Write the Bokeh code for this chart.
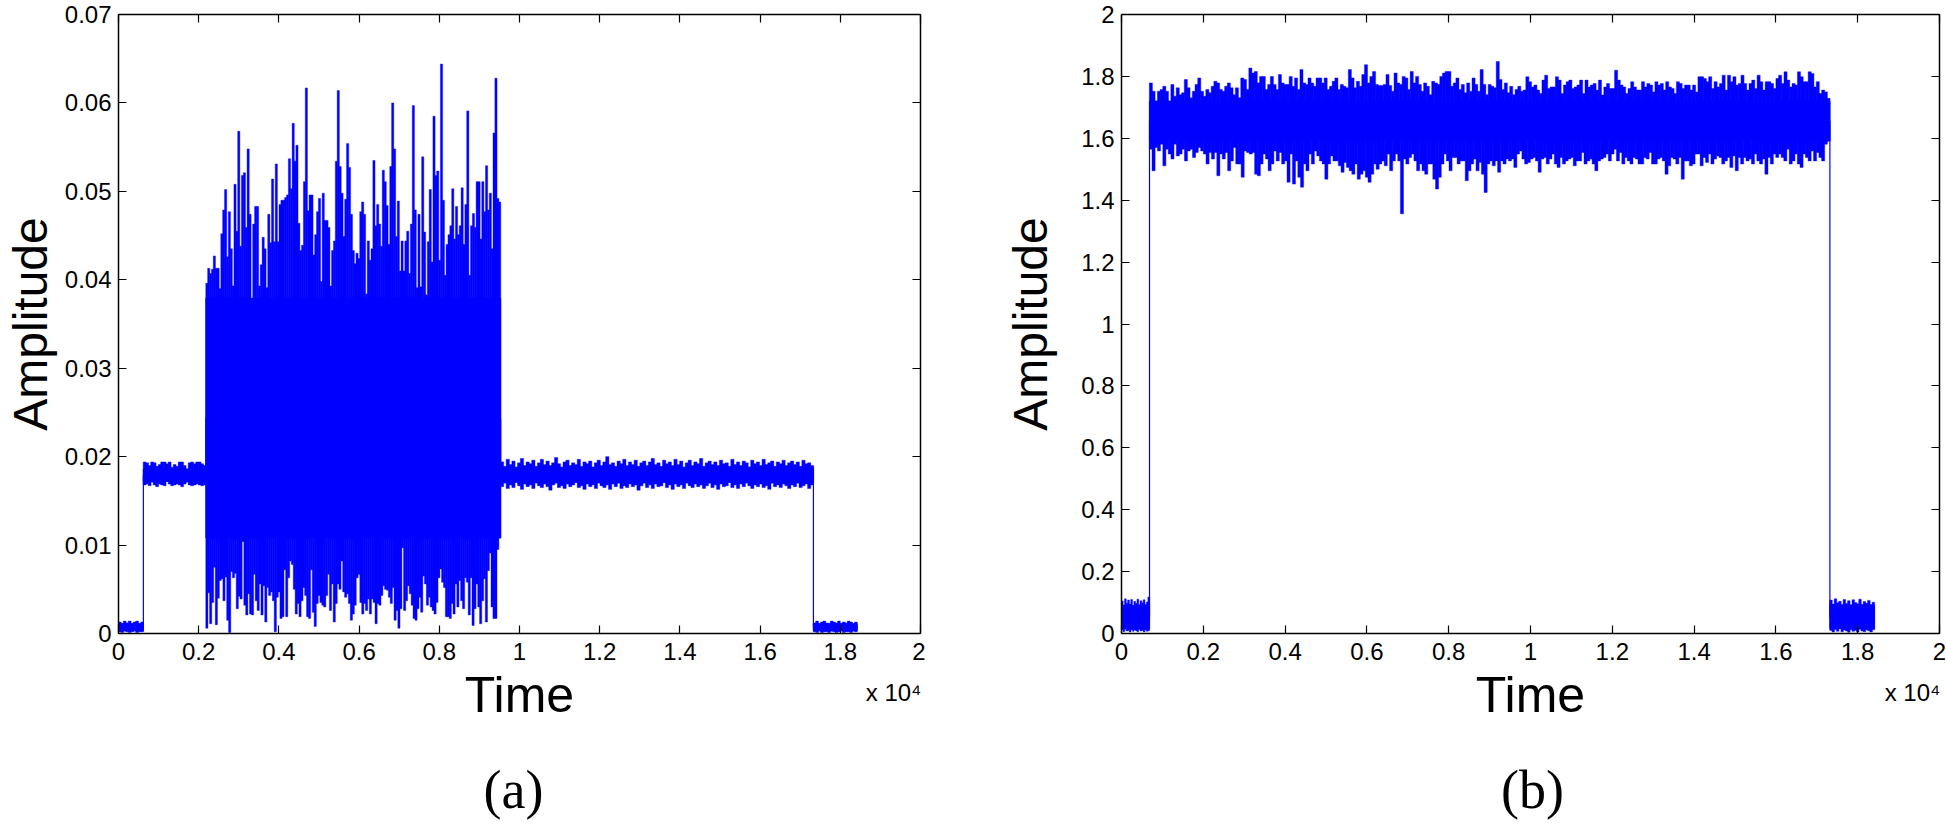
import numpy as np
from bokeh.plotting import figure
from bokeh.models import Range1d, FixedTicker, LinearAxis
from bokeh.layouts import row
from bokeh.embed import file_html
from bokeh.resources import INLINE

# ---------------- data ----------------
x_ticks = [0, 2000, 4000, 6000, 8000, 10000, 12000, 14000, 16000, 18000, 20000]
x_tick_labels = ["0", "0.2", "0.4", "0.6", "0.8", "1", "1.2", "1.4", "1.6", "1.8", "2"]

a_y_ticks = [0, 0.01, 0.02, 0.03, 0.04, 0.05, 0.06, 0.07]
a_y_tick_labels = ["0", "0.01", "0.02", "0.03", "0.04", "0.05", "0.06", "0.07"]
b_y_ticks = [0, 0.2, 0.4, 0.6, 0.8, 1, 1.2, 1.4, 1.6, 1.8, 2]
b_y_tick_labels = ["0", "0.2", "0.4", "0.6", "0.8", "1", "1.2", "1.4", "1.6", "1.8", "2"]

# segment boundaries (time samples)
a_edges = [0, 620, 2180, 9530, 17330, 18420]
b_edges = [0, 685, 17320, 18410]

# panel (a): peaks (hi) and troughs (lo) of each segment
a_base1_hi = [0.0013, 0.0011, 0.0014, 0.0012, 0.0014, 0.0011, 0.0013, 0.0014, 0.0011, 0.0013]
a_base1_lo = [0.0002, 0.0001, 0.0003, 0.0002, 0.0001, 0.0002, 0.0003, 0.0001, 0.0002, 0.0002]

a_plat1_hi = [0.0194, 0.0193, 0.0190, 0.0194, 0.0193, 0.0189, 0.0191, 0.0194, 0.0194, 0.0192,
              0.0194, 0.0188, 0.0191, 0.0189, 0.0194, 0.0194, 0.0190, 0.0186, 0.0193, 0.0194,
              0.0192, 0.0194, 0.0194, 0.0192, 0.0190]
a_plat1_lo = [0.0168, 0.0169, 0.0167, 0.0171, 0.0168, 0.0166, 0.0169, 0.0168, 0.0167, 0.0172,
              0.0169, 0.0167, 0.0168, 0.0169, 0.0168, 0.0166, 0.0169, 0.0171, 0.0168, 0.0167,
              0.0168, 0.0169, 0.0168, 0.0167, 0.0168]

a_burst_hi = [0.0396, 0.0413, 0.0407, 0.0412, 0.0427, 0.0413, 0.0413, 0.0390, 0.0452, 0.0479,
              0.0502, 0.0426, 0.0477, 0.0435, 0.0393, 0.0508, 0.0455, 0.0568, 0.0438, 0.0518,
              0.0521, 0.0459, 0.0548, 0.0474, 0.0379, 0.0463, 0.0483, 0.0483, 0.0393, 0.0417,
              0.0448, 0.0435, 0.0391, 0.0474, 0.0442, 0.0514, 0.0443, 0.0531, 0.0443, 0.0485,
              0.0490, 0.0490, 0.0493, 0.0496, 0.0537, 0.0503, 0.0577, 0.0534, 0.0552, 0.0464,
              0.0433, 0.0439, 0.0511, 0.0617, 0.0478, 0.0496, 0.0496, 0.0428, 0.0451, 0.0477,
              0.0492, 0.0398, 0.0498, 0.0467, 0.0467, 0.0459, 0.0393, 0.0433, 0.0444, 0.0534,
              0.0614, 0.0528, 0.0498, 0.0449, 0.0491, 0.0554, 0.0527, 0.0474, 0.0433, 0.0418,
              0.0430, 0.0424, 0.0477, 0.0488, 0.0474, 0.0384, 0.0444, 0.0422, 0.0435, 0.0535,
              0.0461, 0.0485, 0.0463, 0.0438, 0.0524, 0.0511, 0.0484, 0.0440, 0.0528, 0.0600,
              0.0548, 0.0449, 0.0489, 0.0410, 0.0444, 0.0410, 0.0444, 0.0455, 0.0407, 0.0463,
              0.0597, 0.0479, 0.0391, 0.0474, 0.0392, 0.0539, 0.0454, 0.0383, 0.0443, 0.0502,
              0.0420, 0.0585, 0.0518, 0.0523, 0.0422, 0.0644, 0.0490, 0.0405, 0.0440, 0.0451,
              0.0461, 0.0503, 0.0446, 0.0483, 0.0451, 0.0461, 0.0504, 0.0440, 0.0485, 0.0591,
              0.0405, 0.0461, 0.0475, 0.0459, 0.0511, 0.0511, 0.0446, 0.0511, 0.0477, 0.0529,
              0.0479, 0.0498, 0.0435, 0.0566, 0.0628, 0.0492, 0.0488]
a_burst_lo = [0.0006, 0.0046, 0.0011, 0.0035, 0.0075, 0.0010, 0.0040, 0.0060, 0.0062, 0.0037,
              0.0064, 0.0015, 0.0001, 0.0070, 0.0063, 0.0068, 0.0028, 0.0042, 0.0039, 0.0104,
              0.0032, 0.0021, 0.0045, 0.0022, 0.0021, 0.0067, 0.0037, 0.0026, 0.0056, 0.0021,
              0.0054, 0.0013, 0.0052, 0.0043, 0.0047, 0.0037, 0.0002, 0.0041, 0.0047, 0.0017,
              0.0019, 0.0072, 0.0019, 0.0063, 0.0082, 0.0078, 0.0050, 0.0022, 0.0034, 0.0019,
              0.0037, 0.0052, 0.0043, 0.0019, 0.0017, 0.0072, 0.0024, 0.0008, 0.0034, 0.0043,
              0.0035, 0.0032, 0.0030, 0.0043, 0.0067, 0.0026, 0.0056, 0.0013, 0.0034, 0.0056,
              0.0050, 0.0082, 0.0047, 0.0041, 0.0045, 0.0034, 0.0015, 0.0022, 0.0032, 0.0063,
              0.0067, 0.0035, 0.0022, 0.0034, 0.0026, 0.0039, 0.0022, 0.0039, 0.0035, 0.0011,
              0.0034, 0.0032, 0.0043, 0.0054, 0.0050, 0.0049, 0.0041, 0.0034, 0.0052, 0.0015,
              0.0026, 0.0006, 0.0028, 0.0097, 0.0026, 0.0037, 0.0054, 0.0045, 0.0032, 0.0017,
              0.0015, 0.0028, 0.0041, 0.0024, 0.0065, 0.0056, 0.0032, 0.0041, 0.0030, 0.0026,
              0.0022, 0.0035, 0.0063, 0.0073, 0.0058, 0.0052, 0.0019, 0.0019, 0.0017, 0.0034,
              0.0022, 0.0056, 0.0030, 0.0060, 0.0037, 0.0028, 0.0063, 0.0058, 0.0021, 0.0063,
              0.0009, 0.0028, 0.0056, 0.0030, 0.0011, 0.0037, 0.0062, 0.0013, 0.0071, 0.0091,
              0.0030, 0.0017, 0.0017, 0.0095, 0.0108]

a_plat2_hi = [0.0194, 0.0189, 0.0197, 0.0191, 0.0195, 0.0188, 0.0193, 0.0198, 0.0190, 0.0194,
              0.0192, 0.0196, 0.0189, 0.0193, 0.0197, 0.0191, 0.0195, 0.0190, 0.0193, 0.0199,
              0.0192, 0.0188, 0.0194, 0.0196, 0.0190, 0.0193, 0.0191, 0.0197, 0.0189, 0.0194,
              0.0192, 0.0195, 0.0188, 0.0193, 0.0196, 0.0190, 0.0194, 0.0200, 0.0191, 0.0193,
              0.0189, 0.0195, 0.0192, 0.0197, 0.0190, 0.0194, 0.0191, 0.0196, 0.0189, 0.0193,
              0.0195, 0.0190, 0.0194, 0.0198, 0.0191, 0.0193, 0.0189, 0.0196, 0.0192, 0.0194,
              0.0190, 0.0197, 0.0191, 0.0195, 0.0188, 0.0193, 0.0196, 0.0190, 0.0194, 0.0192,
              0.0198, 0.0189, 0.0193, 0.0195, 0.0191, 0.0194, 0.0190, 0.0196, 0.0192, 0.0193,
              0.0189, 0.0197, 0.0191, 0.0194, 0.0190, 0.0195, 0.0193, 0.0188, 0.0196, 0.0192,
              0.0194, 0.0190, 0.0197, 0.0191, 0.0193, 0.0195, 0.0189, 0.0194, 0.0192, 0.0196,
              0.0190, 0.0193, 0.0195, 0.0191, 0.0194, 0.0189, 0.0196, 0.0192, 0.0193, 0.0190]
a_plat2_lo = [0.0166, 0.0170, 0.0164, 0.0168, 0.0165, 0.0171, 0.0167, 0.0163, 0.0169, 0.0166,
              0.0168, 0.0164, 0.0170, 0.0167, 0.0165, 0.0169, 0.0166, 0.0162, 0.0168, 0.0170,
              0.0165, 0.0167, 0.0164, 0.0169, 0.0166, 0.0168, 0.0171, 0.0165, 0.0167, 0.0163,
              0.0169, 0.0166, 0.0168, 0.0164, 0.0170, 0.0167, 0.0165, 0.0168, 0.0163, 0.0169,
              0.0166, 0.0170, 0.0164, 0.0167, 0.0165, 0.0169, 0.0166, 0.0168, 0.0162, 0.0167,
              0.0170, 0.0165, 0.0168, 0.0164, 0.0169, 0.0166, 0.0167, 0.0171, 0.0165, 0.0168,
              0.0163, 0.0169, 0.0166, 0.0168, 0.0164, 0.0170, 0.0167, 0.0165, 0.0169, 0.0166,
              0.0168, 0.0164, 0.0167, 0.0170, 0.0165, 0.0168, 0.0163, 0.0169, 0.0166, 0.0167,
              0.0171, 0.0165, 0.0168, 0.0164, 0.0169, 0.0166, 0.0170, 0.0167, 0.0164, 0.0168,
              0.0166, 0.0169, 0.0165, 0.0167, 0.0163, 0.0170, 0.0166, 0.0168, 0.0165, 0.0169,
              0.0167, 0.0164, 0.0168, 0.0166, 0.0170, 0.0165, 0.0167, 0.0169, 0.0164, 0.0168]

a_base2_hi = [0.0012, 0.0014, 0.0011, 0.0013, 0.0014, 0.0012, 0.0011, 0.0014, 0.0013, 0.0012,
              0.0014, 0.0011, 0.0013, 0.0012, 0.0014, 0.0013, 0.0011, 0.0013]
a_base2_lo = [0.0002, 0.0001, 0.0003, 0.0001, 0.0002, 0.0002, 0.0001, 0.0003, 0.0002, 0.0001,
              0.0002, 0.0003, 0.0001, 0.0002, 0.0002, 0.0001, 0.0003, 0.0002]

# panel (b)
b_base1_hi = [0.105, 0.092, 0.112, 0.098, 0.108, 0.095, 0.110, 0.090, 0.104, 0.097,
              0.111, 0.093, 0.106, 0.099, 0.109, 0.094, 0.102, 0.118]
b_base1_lo = [0.012, 0.006, 0.015, 0.008, 0.010, 0.005, 0.013, 0.007, 0.011, 0.009,
              0.006, 0.014, 0.008, 0.010, 0.005, 0.012, 0.007, 0.009]

b_plat_hi = [1.779, 1.752, 1.720, 1.752, 1.758, 1.768, 1.752, 1.720, 1.774, 1.736,
             1.763, 1.741, 1.747, 1.790, 1.763, 1.731, 1.752, 1.774, 1.795, 1.752,
             1.736, 1.758, 1.747, 1.768, 1.784, 1.779, 1.758, 1.752, 1.768, 1.779,
             1.763, 1.741, 1.763, 1.731, 1.795, 1.790, 1.758, 1.827, 1.811, 1.816,
             1.779, 1.800, 1.800, 1.758, 1.774, 1.800, 1.774, 1.758, 1.806, 1.779,
             1.774, 1.774, 1.800, 1.768, 1.795, 1.758, 1.822, 1.779, 1.774, 1.795,
             1.779, 1.768, 1.795, 1.795, 1.779, 1.795, 1.758, 1.768, 1.784, 1.795,
             1.758, 1.774, 1.768, 1.763, 1.822, 1.795, 1.763, 1.784, 1.768, 1.806,
             1.838, 1.779, 1.800, 1.816, 1.774, 1.771, 1.771, 1.774, 1.806, 1.771,
             1.752, 1.811, 1.779, 1.774, 1.800, 1.795, 1.758, 1.816, 1.779, 1.800,
             1.774, 1.752, 1.779, 1.768, 1.741, 1.784, 1.779, 1.774, 1.800, 1.811,
             1.816, 1.816, 1.768, 1.779, 1.795, 1.758, 1.774, 1.747, 1.779, 1.752,
             1.795, 1.774, 1.752, 1.822, 1.774, 1.741, 1.774, 1.768, 1.763, 1.848,
             1.790, 1.758, 1.779, 1.747, 1.768, 1.741, 1.758, 1.768, 1.752,
             1.756, 1.799, 1.783, 1.766, 1.772, 1.756, 1.745, 1.788, 1.804, 1.761,
             1.766, 1.766, 1.799, 1.788, 1.745, 1.772, 1.783, 1.788, 1.761, 1.766,
             1.772, 1.788, 1.745, 1.788, 1.766, 1.772, 1.777, 1.756, 1.788, 1.740,
             1.766, 1.777, 1.761, 1.761, 1.820, 1.788, 1.772, 1.766, 1.745, 1.761,
             1.783, 1.766, 1.756, 1.756, 1.783, 1.766, 1.777, 1.772, 1.750, 1.783,
             1.772, 1.777, 1.756, 1.783, 1.766, 1.761, 1.745, 1.783, 1.777, 1.761,
             1.772, 1.772, 1.756, 1.772, 1.750, 1.799, 1.799, 1.793, 1.783, 1.799,
             1.761, 1.783, 1.766, 1.777, 1.804, 1.756, 1.804, 1.783, 1.799, 1.772,
             1.777, 1.804, 1.777, 1.756, 1.777, 1.788, 1.761, 1.804, 1.783, 1.756,
             1.783, 1.783, 1.777, 1.761, 1.793, 1.804, 1.777, 1.815, 1.788, 1.766,
             1.777, 1.772, 1.815, 1.799, 1.783, 1.783, 1.815, 1.809, 1.766, 1.783,
             1.745, 1.756, 1.750, 1.729]
b_plat_lo = [1.565, 1.495, 1.570, 1.559, 1.581, 1.511, 1.565, 1.549, 1.533, 1.581,
             1.543, 1.549, 1.565, 1.527, 1.559, 1.565, 1.538, 1.554, 1.570, 1.559,
             1.549, 1.517, 1.554, 1.533, 1.554, 1.479, 1.549, 1.533, 1.554, 1.495,
             1.527, 1.570, 1.517, 1.517, 1.474, 1.559, 1.554, 1.549, 1.554, 1.484,
             1.479, 1.517, 1.549, 1.533, 1.495, 1.517, 1.559, 1.527, 1.554, 1.517,
             1.527, 1.458, 1.549, 1.452, 1.527, 1.474, 1.442, 1.517, 1.495, 1.549,
             1.517, 1.559, 1.543, 1.527, 1.517, 1.468, 1.517, 1.543, 1.527, 1.527,
             1.511, 1.490, 1.522, 1.506, 1.495, 1.484, 1.517, 1.468, 1.484, 1.495,
             1.474, 1.458, 1.484, 1.517, 1.500, 1.517, 1.527, 1.511, 1.549, 1.495,
             1.527, 1.549, 1.527, 1.356, 1.533, 1.517, 1.538, 1.549, 1.527, 1.495,
             1.517, 1.495, 1.484, 1.517, 1.517, 1.468, 1.436, 1.474, 1.517, 1.549,
             1.527, 1.495, 1.538, 1.538, 1.517, 1.527, 1.527, 1.463, 1.495, 1.517,
             1.533, 1.495, 1.522, 1.484, 1.425, 1.517, 1.527, 1.511, 1.527, 1.490,
             1.527, 1.517, 1.533, 1.527, 1.533, 1.506, 1.549, 1.559, 1.533, 1.517,
             1.522, 1.533, 1.538, 1.527, 1.490, 1.533, 1.538, 1.517, 1.533, 1.549,
             1.517, 1.506, 1.538, 1.517, 1.527, 1.533, 1.538, 1.511, 1.527, 1.527,
             1.554, 1.517, 1.527, 1.533, 1.517, 1.495, 1.527, 1.533, 1.538, 1.549,
             1.527, 1.549, 1.565, 1.527, 1.554, 1.517, 1.538, 1.527, 1.517, 1.538,
             1.533, 1.517, 1.517, 1.538, 1.533, 1.554, 1.517, 1.517, 1.533, 1.538,
             1.527, 1.484, 1.511, 1.538, 1.533, 1.517, 1.538, 1.468, 1.527, 1.527,
             1.511, 1.517, 1.549, 1.549, 1.511, 1.538, 1.522, 1.549, 1.517, 1.533,
             1.543, 1.538, 1.517, 1.527, 1.538, 1.506, 1.543, 1.495, 1.538, 1.517,
             1.538, 1.527, 1.533, 1.517, 1.549, 1.527, 1.517, 1.533, 1.484, 1.538,
             1.517, 1.549, 1.538, 1.549, 1.538, 1.527, 1.565, 1.517, 1.527, 1.549,
             1.517, 1.506, 1.549, 1.538, 1.527, 1.559, 1.527, 1.554, 1.538, 1.527,
             1.581, 1.591]

b_base2_hi = [0.108, 0.095, 0.112, 0.099, 0.104, 0.093, 0.110, 0.097, 0.106, 0.092,
              0.109, 0.100, 0.096, 0.111, 0.094, 0.103, 0.098, 0.107, 0.093, 0.101]
b_base2_lo = [0.010, 0.005, 0.013, 0.007, 0.016, 0.006, 0.011, 0.008, 0.004, 0.012,
              0.007, 0.010, 0.005, 0.014, 0.008, 0.006, 0.011, 0.009, 0.005, 0.012]

a_segments = [(a_base1_hi, a_base1_lo), (a_plat1_hi, a_plat1_lo), (a_burst_hi, a_burst_lo),
              (a_plat2_hi, a_plat2_lo), (a_base2_hi, a_base2_lo)]
b_segments = [(b_base1_hi, b_base1_lo), (b_plat_hi, b_plat_lo), (b_base2_hi, b_base2_lo)]

# ---------------- styling / layout (page has no margin: 1946 x 826) ----------------
SANS = "Liberation Sans"
SERIF = "Liberation Serif"
BLUE = "#0000ff"
PAGE_H = 826
TOP, BOTTOM = 14, 193
X_MAX = 20000


def draw_signal(p, edges, segments):
    step_x, step_y = [], []
    for i, (hi, lo) in enumerate(segments):
        t0, t1 = edges[i], edges[i + 1]
        hi = np.asarray(hi, float)
        lo = np.asarray(lo, float)
        core_lo, core_hi = lo.max(), hi.min()
        sh = (t1 - t0) / len(hi)
        sl = (t1 - t0) / len(lo)
        th = t0 + sh * (np.arange(len(hi)) + 0.5)
        tl = t0 + sl * (np.arange(len(lo)) + 0.5)
        p.quad(left=t0, right=t1, bottom=core_lo, top=core_hi, fill_color=BLUE,
               line_color=BLUE, line_width=0.5)
        p.vbar(x=th, width=sh * 1.15, bottom=core_lo, top=hi, fill_color=BLUE,
               line_color=BLUE, line_width=0.4)
        p.vbar(x=tl, width=sl * 1.15, bottom=lo, top=core_hi, fill_color=BLUE,
               line_color=BLUE, line_width=0.4)
        mid = 0.5 * (core_lo + core_hi)
        step_x += [t0, t1]
        step_y += [mid, mid]
    p.line(step_x, step_y, line_color=BLUE, line_width=1.2)


def style_axis(ax, ticks, labels, show_labels, standoff):
    ax.ticker = FixedTicker(ticks=ticks)
    if show_labels:
        ax.major_label_overrides = {k: s for k, s in zip(ticks, labels)}
        ax.major_label_text_font = SANS
        ax.major_label_text_font_size = "24px"
        ax.major_label_text_color = "black"
        ax.major_label_standoff = standoff
    else:
        ax.major_label_overrides = {k: "" for k in ticks}
        ax.major_label_text_font_size = "1px"
        ax.major_label_text_color = None
        ax.major_label_standoff = 0
    ax.axis_line_color = "black"
    ax.axis_line_width = 1.5
    ax.major_tick_in = 8
    ax.major_tick_out = 0
    ax.major_tick_line_color = "black"
    ax.major_tick_line_width = 1.2
    ax.minor_tick_line_color = None


def text_axis(pos, label, font, size, standoff):
    """A bare axis (no line, no ticks) that only carries one text."""
    ax = LinearAxis(ticker=FixedTicker(ticks=[pos]), major_label_overrides={pos: label})
    ax.axis_line_color = None
    ax.major_tick_line_color = None
    ax.minor_tick_line_color = None
    ax.major_tick_in = 0
    ax.major_tick_out = 0
    ax.major_label_text_font = font
    ax.major_label_text_font_size = size
    ax.major_label_text_color = "black"
    ax.major_label_standoff = standoff
    return ax


def panel(width, left, right, ymax, yticks, ylabels, edges, segments, amp_standoff,
          tag, tag_dx):
    p = figure(width=width, height=PAGE_H, x_range=Range1d(0, X_MAX),
               y_range=Range1d(0, ymax), output_backend="svg", toolbar_location=None,
               min_border_left=left, min_border_right=right,
               min_border_top=TOP, min_border_bottom=BOTTOM)
    p.background_fill_color = "white"
    p.border_fill_color = "white"
    p.outline_line_color = None
    p.xgrid.visible = False
    p.ygrid.visible = False
    draw_signal(p, edges, segments)
    frame_w = width - left - right
    px = X_MAX / frame_w            # data units per pixel along x

    style_axis(p.xaxis[0], x_ticks, x_tick_labels, True, 9)

    ya = p.yaxis[0]
    style_axis(ya, yticks, ylabels, True, 7)
    ya.axis_label = "Amplitude"
    ya.axis_label_text_font = SANS
    ya.axis_label_text_font_size = "48px"
    ya.axis_label_text_font_style = "normal"
    ya.axis_label_text_color = "black"
    ya.axis_label_standoff = amp_standoff

    top_ax = LinearAxis()
    style_axis(top_ax, x_ticks, x_tick_labels, False, 0)
    p.add_layout(top_ax, "above")
    right_ax = LinearAxis()
    style_axis(right_ax, yticks, ylabels, False, 0)
    p.add_layout(right_ax, "right")

    # second row below the ticks: the "x 10^4" multiplier at the right and "Time" centred
    mult = text_axis(X_MAX - 27 * px, "x 10\u2074", SANS, "24px", 16)
    mult.axis_label = "Time"
    mult.axis_label_text_font = SANS
    mult.axis_label_text_font_size = "50px"
    mult.axis_label_text_font_style = "normal"
    mult.axis_label_text_color = "black"
    mult.axis_label_standoff = -42
    p.add_layout(mult, "below")

    # panel tag
    p.add_layout(text_axis(X_MAX / 2 + tag_dx * px, tag, SERIF, "54px", 34), "below")
    return p


pa = panel(925, 115, 5, 0.07, a_y_ticks, a_y_tick_labels, a_edges, a_segments, 5, "(a)", -6)
pb = panel(1021, 196, 7, 2, b_y_ticks, b_y_tick_labels, b_edges, b_segments, 21, "(b)", 2)

open("out.html", "w").write(file_html(row(pa, pb), INLINE))
